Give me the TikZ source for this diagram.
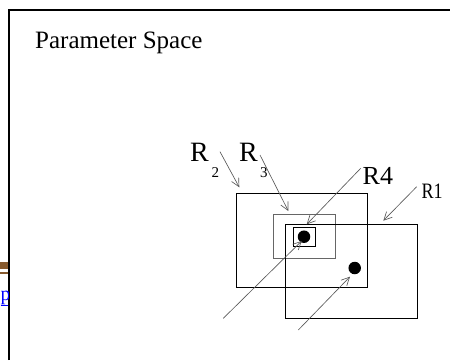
\documentclass[tikz,border=0pt]{standalone}
\usepackage{fontspec}
\setmainfont{Liberation Serif}
\usetikzlibrary{arrows.meta}
\begin{document}
\begin{tikzpicture}[x=1pt,y=-1pt,
  box/.style={draw=black,line width=0.85pt},
  graybox/.style={draw=black!60,line width=0.85pt},
  ptr/.style={draw=black!65,line width=0.65pt,-{Straight Barb[length=8pt,width=8pt]}},
  dot/.style={circle,fill=black,inner sep=0pt,minimum size=12.5pt},
  lbl/.style={inner sep=0pt,anchor=base west}]
\useasboundingbox (0,0) rectangle (450,360);
\fill[white] (0,0) rectangle (450,360);
% frame
\draw[line width=1.5pt] (9,360) -- (9,10) -- (450,10);
% cut-off page bits at left
\fill[brown!70!black] (0,261.7) rectangle (8.2,269.3);
\fill[brown!70!black] (0,271.7) rectangle (8.2,274);
\begin{scope}
  \clip (0,280) rectangle (8.2,312);
  \node[lbl,text=blue,font=\fontsize{20}{20}\selectfont] (plink) at (0.5,300) {\underline{p}};
\end{scope}
% title
\node[lbl,font=\fontsize{25}{25}\selectfont] (title) at (35,48.3) {Parameter Space};
% rectangles
\draw[box] (236,193) rectangle (367,287);
\draw[graybox] (273,214) rectangle (335,258);
\draw[box] (285,224) rectangle (417,318);
\draw[box] (293,227) rectangle (315,246);
\node[dot] (d1) at (304,236.7) {};
\node[dot] (d2) at (354.7,268) {};
% labels
\node[lbl,font=\fontsize{28}{28}\selectfont] (r2) at (190,161) {R};
\node[lbl,font=\fontsize{15}{15}\selectfont] (r2s) at (211.5,177.3) {2};
\node[lbl,font=\fontsize{28}{28}\selectfont] (r3) at (239,161) {R};
\node[lbl,font=\fontsize{15}{15}\selectfont] (r3s) at (259.8,177.3) {3};
\node[lbl,font=\fontsize{26}{26}\selectfont] (r4) at (362.5,184) {R4};
\node[lbl,font=\fontsize{22}{22}\selectfont,xscale=0.82] (r1) at (421.5,198.3) {R1};
% pointers
\coordinate (a2s) at (220,151.7);  \coordinate (a2e) at (239.3,187.3);
\coordinate (a3s) at (260,155);    \coordinate (a3e) at (288.3,211);
\coordinate (a4s) at (360.7,168.3); \coordinate (a4e) at (306.7,224.3);
\coordinate (a1s) at (416.7,186.7); \coordinate (a1e) at (383.3,220.7);
\coordinate (b1s) at (223.3,318.3); \coordinate (b1e) at (301.7,241);
\coordinate (b2s) at (298.3,330);   \coordinate (b2e) at (350,276.7);
\draw[ptr] (a2s) -- (a2e);
\draw[ptr] (a3s) -- (a3e);
\draw[ptr] (a4s) -- (a4e);
\draw[ptr] (a1s) -- (a1e);
\draw[ptr] (b1s) -- (b1e);
\draw[ptr] (b2s) -- (b2e);
\end{tikzpicture}
\end{document}
